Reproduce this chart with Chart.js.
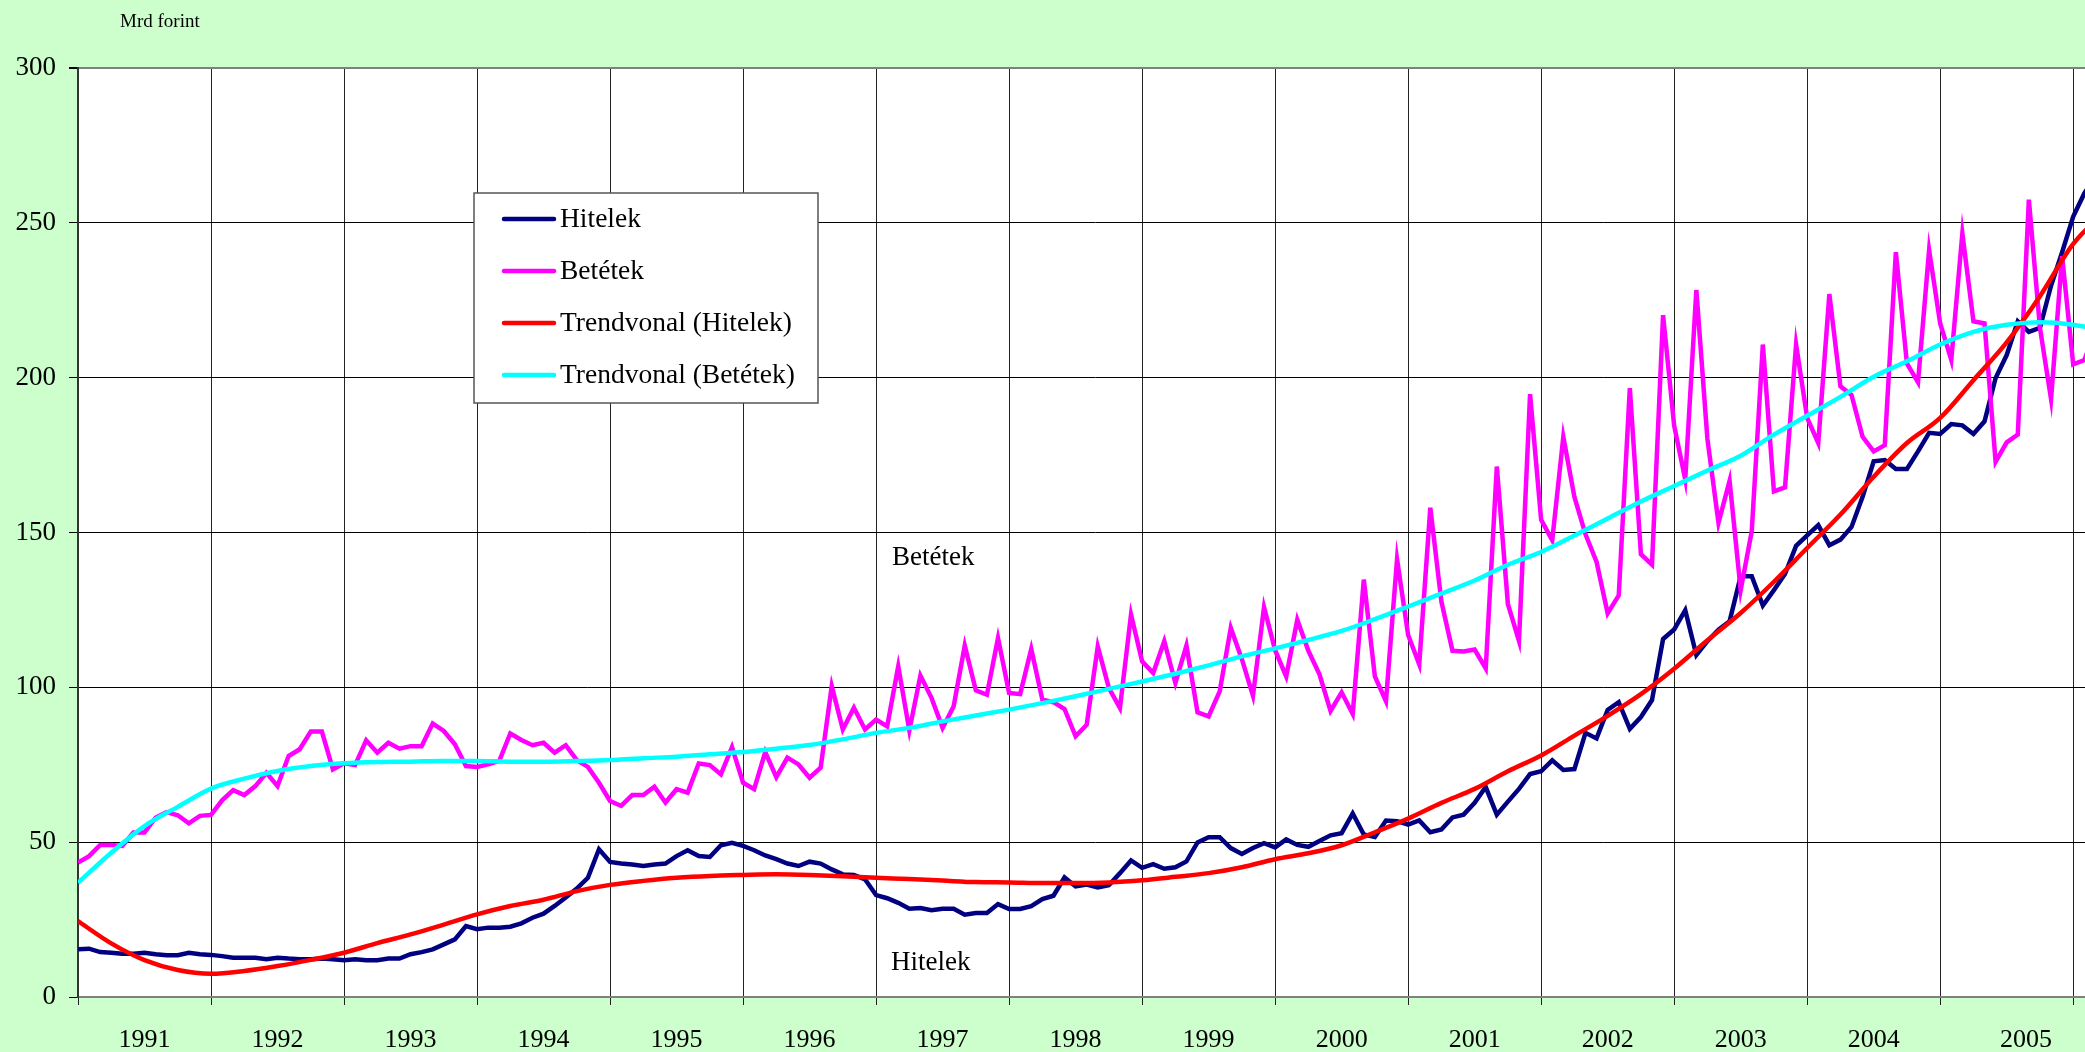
<!DOCTYPE html>
<html>
<head>
<meta charset="utf-8">
<script src="https://cdn.jsdelivr.net/npm/chart.js@4.4.1/dist/chart.umd.min.js"></script>
<style>
  html, body { margin: 0; padding: 0; background: #ccffcc; overflow: hidden; }
  #wrap { position: relative; width: 2112px; height: 1052px; }
</style>
</head>
<body>
<div id="wrap"><canvas id="myChart"></canvas></div>
<script>
// monthly values from Jan 1991, Mrd forint
var hitelek = [
  15.4, 15.6, 14.5, 14.3, 14.0, 14.0, 14.3, 13.8, 13.5, 13.5, 14.3, 13.8,
  13.6, 13.2, 12.7, 12.7, 12.7, 12.2, 12.7, 12.4, 12.2, 12.2, 12.4, 12.2,
  11.9, 12.2, 11.9, 11.9, 12.4, 12.4, 13.8, 14.5, 15.4, 17.0, 18.6, 22.9,
  21.9, 22.4, 22.4, 22.7, 23.8, 25.6, 26.9, 29.4, 32.1, 35.0, 38.5, 47.7,
  43.6, 43.1, 42.8, 42.3, 42.8, 43.1, 45.5, 47.4, 45.5, 45.2, 49.0, 49.8,
  48.8, 47.4, 45.7, 44.5, 43.1, 42.3, 43.7, 43.1, 41.2, 39.6, 39.4, 38.0,
  32.9, 31.9, 30.4, 28.5, 28.7, 28.0, 28.5, 28.5, 26.6, 27.1, 27.1, 30.0,
  28.4, 28.4, 29.3, 31.6, 32.7, 38.6, 35.7, 36.3, 35.4, 36.1, 40.0, 44.1,
  41.7, 42.9, 41.4, 41.9, 43.8, 49.9, 51.6, 51.6, 48.1, 46.2, 48.1, 49.7,
  48.3, 50.9, 49.1, 48.5, 50.4, 52.2, 52.9, 59.3, 52.5, 51.7, 57.0, 56.8,
  55.7, 57.0, 53.2, 54.1, 58.0, 58.9, 62.7, 67.8, 58.9, 63.1, 67.2, 72.0,
  72.9, 76.4, 73.3, 73.6, 85.3, 83.5, 92.7, 95.2, 86.6, 90.4, 95.9, 115.6,
  118.7, 124.9, 110.4, 114.9, 118.6, 121.3, 135.9, 135.9, 126.4, 131.4, 136.6, 145.7,
  149.1, 152.4, 145.9, 147.7, 151.8, 161.5, 173.0, 173.4, 170.5, 170.5, 176.2, 182.2,
  181.8, 185.0, 184.6, 181.8, 185.9, 199.9, 207.3, 218.2, 214.8, 216.1, 229.7, 240.5,
  252.0, 259.5, 265.0
];
var betetek = [
  43.4, 45.5, 49.1, 49.1, 48.8, 53.1, 53.1, 57.9, 59.7, 58.7, 56.1, 58.5,
  58.8, 63.5, 66.8, 65.2, 68.1, 72.4, 68.1, 77.8, 80.0, 85.7, 85.7, 73.5,
  75.5, 74.9, 82.9, 78.9, 82.1, 80.2, 81.0, 81.0, 88.3, 85.9, 81.6, 74.6,
  74.3, 75.1, 76.2, 85.1, 83.0, 81.3, 82.1, 78.9, 81.3, 76.5, 74.3, 69.2,
  63.3, 61.7, 65.2, 65.2, 67.9, 62.8, 67.1, 66.0, 75.4, 74.9, 71.9, 80.7,
  69.2, 67.1, 79.1, 71.0, 77.3, 75.1, 70.8, 74.1, 100.4, 86.4, 93.4, 86.4,
  89.6, 87.4, 106.8, 86.1, 103.8, 96.6, 86.9, 93.9, 113.5, 99.0, 97.6, 115.9,
  98.2, 97.8, 112.4, 96.0, 95.2, 93.0, 84.2, 87.9, 113.2, 99.8, 93.3, 123.5,
  108.4, 104.6, 114.9, 101.4, 113.5, 91.9, 90.6, 98.7, 119.2, 109.1, 97.3, 125.9,
  112.0, 103.5, 121.8, 111.8, 104.2, 92.4, 98.4, 91.4, 134.8, 103.5, 95.5, 141.4,
  116.9, 107.4, 158.0, 127.7, 111.8, 111.6, 112.2, 106.1, 171.3, 126.9, 115.0, 194.7,
  154.1, 147.5, 180.9, 161.5, 149.4, 140.5, 123.9, 129.7, 196.6, 143.0, 139.6, 220.2,
  184.5, 167.1, 228.3, 180.2, 153.1, 166.7, 131.4, 150.4, 210.7, 163.3, 164.6, 210.7,
  187.0, 178.9, 227.0, 197.2, 194.4, 180.9, 176.2, 178.2, 240.5, 204.6, 198.5, 241.2,
  217.5, 205.7, 246.6, 218.2, 217.5, 172.8, 179.1, 181.6, 257.5, 216.1, 193.1, 239.2,
  204.3, 205.7, 215.0
];

// trend lines read every 3 months
var trendMonths = [
  0, 3, 6, 9, 12, 15, 18, 21, 24, 27, 30, 33, 36, 39, 42, 45, 48, 51, 54, 57,
  60, 63, 66, 69, 72, 75, 78, 81, 84, 87, 90, 93, 96, 99, 102, 105, 108, 111, 114, 117,
  120, 123, 126, 129, 132, 135, 138, 141, 144, 147, 150, 153, 156, 159, 162, 165, 168, 171, 174, 177,
  180, 183
];
var trendHitelek = [
  24.5, 17.3, 11.9, 8.7, 7.5, 8.4, 10.0, 12.0, 14.3, 17.4, 20.2, 23.4, 26.7, 29.4, 31.4, 34.2, 36.2, 37.5, 38.5, 39.1,
  39.4, 39.6, 39.4, 39.0, 38.5, 38.1, 37.6, 37.1, 37.0, 36.8, 36.8, 37.0, 37.7, 38.8, 40.0, 41.9, 44.5, 46.4, 49.0, 53.2,
  57.6, 62.7, 67.2, 72.9, 78.0, 84.4, 90.8, 97.8, 106.0, 115.2, 124.0, 134.1, 145.0, 155.8, 168.0, 178.9, 187.0, 199.2, 211.4, 226.3,
  243.2, 254.0
];
var trendBetetek = [
  36.9, 46.6, 55.2, 61.4, 67.3, 70.5, 73.0, 74.6, 75.5, 75.9, 76.0, 76.2, 76.2, 76.0, 76.0, 76.2, 76.5, 77.1, 77.6, 78.4,
  79.1, 80.2, 81.4, 83.2, 85.3, 86.9, 89.0, 90.9, 92.8, 94.9, 97.1, 99.5, 101.9, 104.4, 107.1, 110.0, 112.6, 115.3, 118.2, 122.0,
  126.1, 130.3, 134.5, 139.6, 143.7, 149.0, 154.5, 160.0, 165.0, 170.0, 174.8, 181.6, 187.7, 193.8, 200.3, 205.3, 210.7, 214.8, 217.1, 217.9,
  217.1, 215.0
];

var years = ['1991', '1992', '1993', '1994', '1995', '1996', '1997', '1998',
             '1999', '2000', '2001', '2002', '2003', '2004', '2005'];
var yTicks = [0, 50, 100, 150, 200, 250, 300];

var xMax = 183.5;   // plot runs past the right edge of the window
var serif = 'Liberation Serif, Times New Roman, serif';
var lw = 4.5;

// year boundaries (grid lines) and year label positions
var labelAt = {};
var xTicks = [];
for (var i = 0; i <= years.length; i++) xTicks.push(i * 12);
for (var i = 0; i < years.length; i++) {
  var mid = (i < years.length - 1) ? i * 12 + 6 : (i * 12 + xMax) / 2;
  labelAt[mid] = years[i];
  xTicks.push(mid);
}
xTicks.sort(function(a, b) { return a - b; });

function pts(xs, ys) {
  return ys.map(function(v, i) { return { x: xs ? xs[i] : i, y: v }; });
}

var plotBg = {
  id: 'plotBg',
  beforeDraw: function(chart) {
    var a = chart.chartArea, c = chart.ctx;
    c.save();
    c.fillStyle = '#ffffff';
    c.fillRect(a.left, a.top, a.right - a.left, a.bottom - a.top);
    c.restore();
  }
};

var extras = {
  id: 'extras',
  afterDraw: function(chart) {
    var c = chart.ctx;
    c.save();
    c.fillStyle = '#000';
    c.textBaseline = 'middle';
    c.textAlign = 'left';
    c.font = '19px ' + serif;
    c.fillText('Mrd forint', 120, 22);
    c.font = '27px ' + serif;
    c.fillText('Betétek', 892, 558);
    c.fillText('Hitelek', 891, 963);

    // legend box
    var bx = 474, by = 193, bw = 344, bh = 210;
    c.fillStyle = '#ffffff';
    c.fillRect(bx, by, bw, bh);
    c.strokeStyle = '#555';
    c.lineWidth = 1.5;
    c.strokeRect(bx, by, bw, bh);
    var rows = [219, 271, 323, 375];
    c.font = '27.5px ' + serif;
    chart.data.datasets.forEach(function(ds, k) {
      c.strokeStyle = ds.borderColor;
      c.lineWidth = 4.5;
      c.lineCap = 'round';
      c.beginPath();
      c.moveTo(504, rows[k]);
      c.lineTo(554, rows[k]);
      c.stroke();
      c.fillStyle = '#000';
      c.fillText(ds.label, 560, rows[k] + 1);
    });
    c.restore();
  }
};

var ctx = document.getElementById('myChart').getContext('2d');
new Chart(ctx, {
  type: 'line',
  data: {
    datasets: [{
      label: 'Hitelek',
      data: pts(null, hitelek),
      borderColor: '#000080',
      borderWidth: lw,
      pointRadius: 0,
      order: 4
    }, {
      label: 'Betétek',
      data: pts(null, betetek),
      borderColor: '#ff00ff',
      borderWidth: lw,
      pointRadius: 0,
      order: 3
    }, {
      label: 'Trendvonal (Hitelek)',
      data: pts(trendMonths, trendHitelek),
      borderColor: '#ff0000',
      borderWidth: lw,
      pointRadius: 0,
      cubicInterpolationMode: 'monotone',
      order: 2
    }, {
      label: 'Trendvonal (Betétek)',
      data: pts(trendMonths, trendBetetek),
      borderColor: '#00ffff',
      borderWidth: lw,
      pointRadius: 0,
      cubicInterpolationMode: 'monotone',
      order: 1
    }]
  },
  options: {
    responsive: true,
    maintainAspectRatio: false,
    animation: false,
    layout: { padding: { top: 68, left: 0, right: 0, bottom: 0 } },
    plugins: {
      legend: { display: false },
      tooltip: { enabled: false }
    },
    scales: {
      x: {
        type: 'linear',
        min: 0,
        max: xMax,
        afterBuildTicks: function(axis) {
          axis.ticks = xTicks.map(function(v) { return { value: v }; });
        },
        afterFit: function(scale) {
          scale.height = 55;
          scale.paddingLeft = 0;
          scale.paddingRight = 0;
        },
        ticks: {
          autoSkip: false,
          maxRotation: 0,
          padding: 20,
          color: '#000',
          font: { family: serif, size: 26 },
          callback: function(value) { return labelAt[value] || ''; }
        },
        grid: {
          color: function(c) { return c.tick && c.tick.value % 12 === 0 ? '#222' : 'rgba(0,0,0,0)'; },
          tickColor: function(c) { return c.tick && c.tick.value % 12 === 0 ? '#222' : 'rgba(0,0,0,0)'; },
          lineWidth: 1,
          tickLength: 8
        },
        border: { color: '#808080', width: 2 }
      },
      y: {
        min: 0,
        max: 300,
        afterBuildTicks: function(axis) {
          axis.ticks = yTicks.map(function(v) { return { value: v }; });
        },
        afterFit: function(scale) {
          scale.width = 78;
          scale.paddingTop = 0;
          scale.paddingBottom = 0;
        },
        ticks: {
          padding: 13,
          color: '#000',
          font: { family: serif, size: 27 }
        },
        grid: {
          color: function(c) { return c.tick && c.tick.value === 300 ? '#808080' : '#000'; },
          lineWidth: function(c) { return c.tick && c.tick.value === 300 ? 2 : 1; },
          tickColor: '#000',
          tickLength: 9
        },
        border: { color: '#333', width: 2 }
      }
    }
  },
  plugins: [plotBg, extras]
});
</script>
</body>
</html>
